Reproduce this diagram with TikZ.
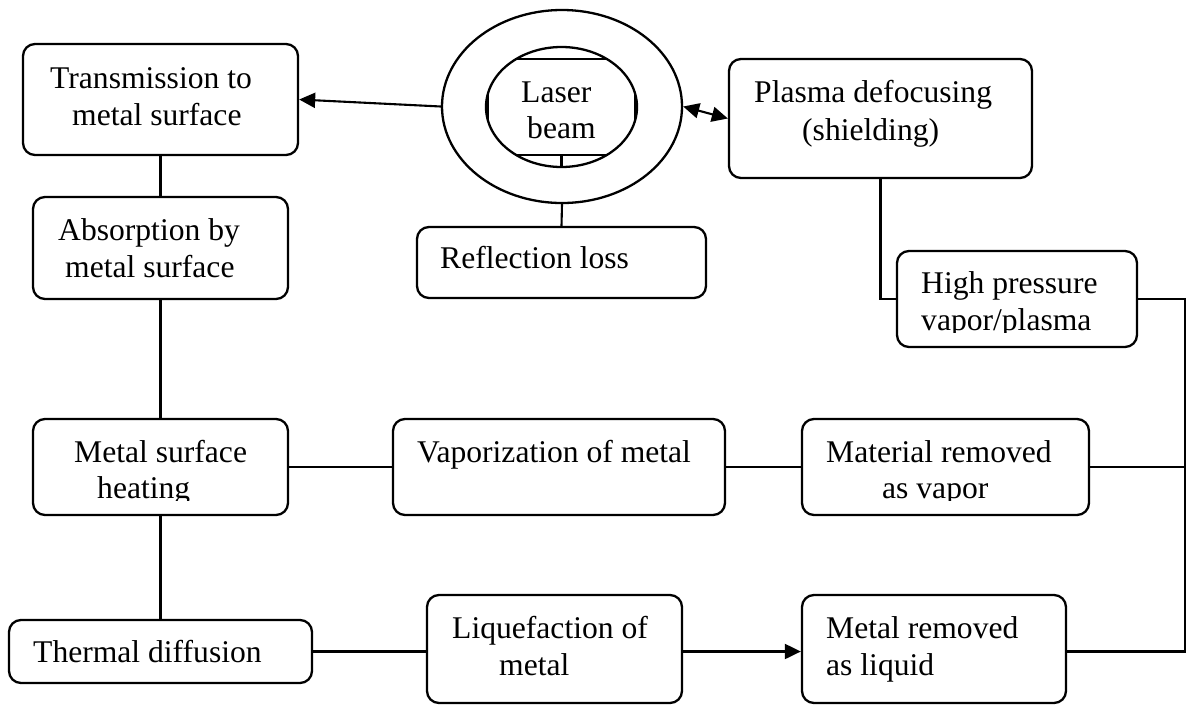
\documentclass[tikz,border=0pt]{standalone}
\usepackage{fontspec}
\setmainfont{Liberation Serif}
\usetikzlibrary{arrows.meta,shapes.geometric}
\begin{document}
\begin{tikzpicture}[x=1pt,y=-1pt,
  box/.style={draw,line width=2.3pt,rounded corners=12pt,inner sep=0pt,fill=white},
  oval/.style={draw,ellipse,line width=2.3pt,inner sep=0pt,fill=white},
  txt/.style={anchor=base west,inner sep=0pt,font=\fontsize{31.6}{37}\selectfont},
  link/.style={line width=2.1pt},
  tip/.tip={Triangle[length=16pt,width=15pt]},
  arr/.style={link,-tip},
  darr/.style={link,tip-tip}]
\useasboundingbox (0,0) rectangle (1186,705);

% laser source: two nested ellipses around a text frame
\node[oval,minimum width=240pt,minimum height=193pt] (outer) at (562,106.5) {};
\node[oval,minimum width=151pt,minimum height=120pt] (inner) at (561.5,107) {};
\begin{scope}
  \clip (561.5,107) ellipse [x radius=75.5pt, y radius=60pt];
  \node[draw,line width=2.1pt,inner sep=0pt,minimum width=147.5pt,minimum height=96pt] (laser) at (561.75,107) {};
\end{scope}
\node[txt] (laser1) at (521,102) {Laser};
\node[txt] (laser2) at (527,138) {beam};

% process boxes
\node[box,minimum width=275pt,minimum height=111pt] (trans)   at (160.5,99.5) {};
\node[box,minimum width=255pt,minimum height=102pt] (absorb)  at (160.5,248) {};
\node[box,minimum width=255pt,minimum height=96pt]  (heat)    at (160.5,467) {};
\node[box,minimum width=332pt,minimum height=96pt]  (vapor)   at (559,467) {};
\node[box,minimum width=287pt,minimum height=96pt]  (mat)     at (945.5,467) {};
\node[box,minimum width=303pt,minimum height=63pt]  (thermal) at (160.5,651.5) {};
\node[box,minimum width=255pt,minimum height=108pt] (liq)     at (554.5,649) {};
\node[box,minimum width=264pt,minimum height=108pt] (metal)   at (934,649) {};
\node[box,minimum width=289pt,minimum height=71pt]  (refl)    at (561.5,262.5) {};
\node[box,minimum width=303pt,minimum height=119pt] (plasma)  at (880.5,118.5) {};
\node[box,minimum width=240pt,minimum height=96pt]  (high)    at (1017,299) {};

% box texts
\node[txt] (trans1) at (50,88) {Transmission to};
\node[txt] (trans2) at (72,125) {metal surface};
\node[txt] (absorb1) at (58,240) {Absorption by};
\node[txt] (absorb2) at (65,277) {metal surface};
\node[txt] (refl1) at (440,268) {Reflection loss};
\node[txt] (plasma1) at (754,102) {Plasma defocusing};
\node[txt] (plasma2) at (802,140) {(shielding)};
\node[txt] (high1) at (921,293) {High pressure};
\begin{scope}
  \clip (high.north west) rectangle (high.east |- 0,332);
  \node[txt] (high2) at (921,330) {vapor/plasma};
\end{scope}
\node[txt] (heat1) at (74,462) {Metal surface};
\begin{scope}
  \clip (heat.north west) rectangle (heat.east |- 0,500);
  \node[txt] (heat2) at (97,498) {heating};
\end{scope}
\node[txt] (vapor1) at (417,462) {Vaporization of metal};
\node[txt] (mat1) at (826,462) {Material removed};
\begin{scope}
  \clip (mat.north west) rectangle (mat.east |- 0,500);
  \node[txt] (mat2) at (882,498) {as vapor};
\end{scope}
\node[txt] (thermal1) at (33,662) {Thermal diffusion};
\node[txt] (liq1) at (452,638) {Liquefaction of};
\node[txt] (liq2) at (499,675) {metal};
\node[txt] (metal1) at (826,638) {Metal removed};
\node[txt] (metal2) at (826,675) {as liquid};

% connectors
\coordinate (rail) at (1185,299);
\draw[arr] (outer.west) -- (trans.east);
\draw[darr] (outer.east) -- (plasma.west);
\draw[link] (inner.south |- laser.south) -- (inner.south);
\draw[link] (outer.south) -- (refl.north);
\draw[link] (trans.south) -- (absorb.north);
\draw[link] (absorb.south) -- (heat.north);
\draw[link] (heat.south) -- (thermal.north);
\draw[link] (heat.east) -- (vapor.west);
\draw[link] (vapor.east) -- (mat.west);
\draw[link] (mat.east) -- (mat.east -| rail);
\draw[link] (thermal.east) -- (thermal.east -| liq.west);
\draw[arr] (thermal.east -| liq.east) -- (thermal.east -| metal.west);
\draw[link] (thermal.east -| metal.east) -| (rail) -- (high.east);
\draw[link] (plasma.south) |- (high.west);
\end{tikzpicture}
\end{document}
